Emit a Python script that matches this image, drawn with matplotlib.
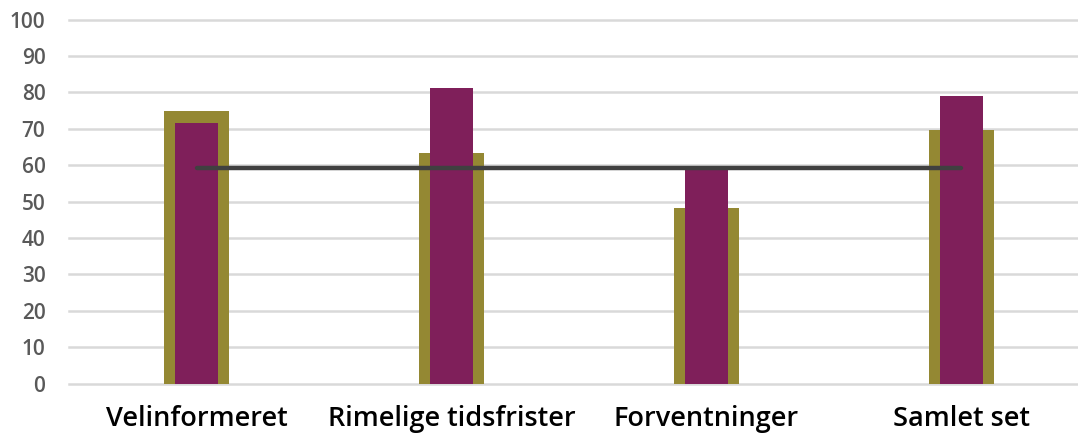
import numpy as np
import matplotlib.pyplot as plt

# Data
categories = ['Velinformeret', 'Rimelige tidsfrister', 'Forventninger', 'Samlet set']
olive_values = [75, 63.3, 48.2, 69.6]
purple_values = [71.5, 81.1, 58.8, 79.0]
line_values = [59.3, 59.3, 59.3, 59.3]
y_ticks = [0, 10, 20, 30, 40, 50, 60, 70, 80, 90, 100]

W, H = 1078, 434
fig = plt.figure(figsize=(W / 100, H / 100), dpi=100)
ax = fig.add_axes([69 / W, 50.5 / H, 1009 / W, 364 / H])

x = np.arange(len(categories))

# Wide olive bars behind, narrow purple bars in front
ax.bar(x, olive_values, width=0.255, color='#948833', zorder=2)
ax.bar(x, purple_values, width=0.165, color='#7f1f5a', zorder=3)

# Horizontal reference line
ax.plot(x, line_values, color='#404040', linewidth=3.2,
        solid_capstyle='round', zorder=4)

ax.set_xlim(-0.5, -0.5 + 1009 / 255)
ax.set_ylim(0, 100)
ax.set_yticks(y_ticks)
ax.set_xticks(x)
ax.set_xticklabels(categories, fontsize=19.5, fontfamily='Open Sans',
                   fontweight='semibold', color='black')
for lbl in ax.get_yticklabels():
    lbl.set_fontfamily('Open Sans')
    lbl.set_fontweight('semibold')
    lbl.set_fontsize(15)
    lbl.set_color('#595959')

ax.tick_params(axis='y', length=0, pad=17)
ax.tick_params(axis='x', length=0, pad=15.5)

# Grid
ax.grid(axis='y', color='#d9d9d9', linewidth=1.8, zorder=0)
for line in ax.get_ygridlines():
    line.set_clip_on(False)
ax.set_axisbelow(True)

for spine in ax.spines.values():
    spine.set_visible(False)

plt.savefig('out.png', dpi=100)
